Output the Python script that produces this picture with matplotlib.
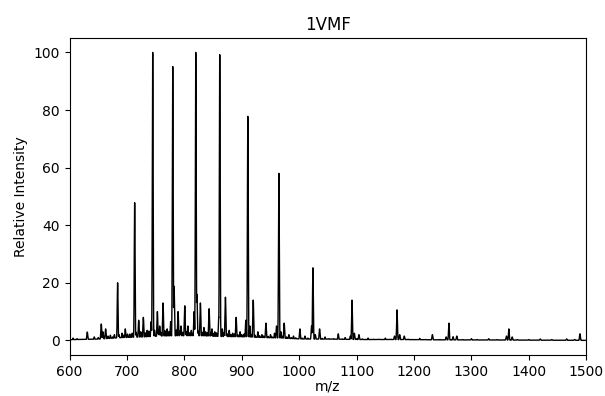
import numpy as np
import matplotlib
matplotlib.use("Agg")
import matplotlib.pyplot as plt

# Major charge-state peaks (m/z, relative intensity)
major_mz = [683.7, 713.4, 744.8, 779.7, 819.8, 861.6, 910.5, 964.6,
            1023.9, 1092.0, 1170.4, 1260.8, 1365.2, 1489.0]
major_int = [20, 47.8, 100, 95.1, 100, 99.2, 77.8, 58,
             25.2, 14, 10.6, 6, 4, 2.3]

# Minor peaks (m/z, relative intensity)
minor_mz = [606, 613, 630.8, 643, 655.2, 658, 662.8, 671, 678, 691.3, 697, 705,
            720.4, 728.5, 735, 742, 752.9, 757, 762.8, 770, 776, 782, 789, 794,
            800.6, 806, 812, 816.9, 821.8, 827.9, 834, 843, 848, 852.9, 859.9,
            866, 871.5, 878, 884, 890.1, 897, 907, 914, 919.9, 928, 935, 942,
            950, 957, 960.5, 968, 973.8, 982, 990, 1001.2, 1010, 1021.5,
            1028, 1035.5, 1045, 1068, 1080, 1089, 1096, 1104, 1120, 1150,
            1166, 1175, 1183, 1210, 1232, 1256, 1268, 1274.5, 1300, 1330,
            1361, 1371, 1420, 1466]
minor_int = [0.8, 0.6, 2.9, 1.2, 5.7, 3.0, 4.0, 1.8, 2.0, 2.5, 4.0, 2.2,
             7.0, 8.0, 3.5, 6.5, 10.0, 5.0, 13.0, 4.0, 6.5, 18.8, 10.0, 5.0,
             12.0, 5.0, 3.5, 10.0, 16.0, 13.0, 4.5, 11.0, 4.0, 3.0, 8.0,
             4.0, 15.0, 3.5, 2.5, 8.0, 3.0, 7.0, 5.0, 14.0, 3.0, 2.0, 6.0,
             2.0, 2.5, 5.0, 3.0, 6.0, 2.0, 1.5, 4.0, 1.5, 5.0,
             2.0, 4.0, 1.2, 2.3, 1.0, 1.5, 2.5, 2.0, 0.8, 0.8,
             1.5, 2.0, 1.5, 0.7, 2.0, 1.2, 1.3, 1.5, 0.6, 0.6,
             1.5, 1.2, 0.5, 0.5]

# Fine baseline spikes (m/z, relative intensity)
fine_mz = [650, 667, 675, 686, 694, 701, 709, 716, 724, 732, 738, 748, 755,
           759, 766, 773, 786, 792, 797, 803, 809, 814, 824, 831, 837, 840,
           846, 851, 856, 869, 874, 881, 887, 893, 900, 904, 917, 923, 931,
           938, 946, 953, 971, 978, 986, 994, 1005, 1015, 1040, 1052, 1060,
           1075, 1100, 1110, 1130, 1140, 1160, 1190, 1200, 1220, 1245, 1285,
           1310, 1345, 1380, 1400, 1440, 1480]
fine_int = [1.0, 1.5, 1.2, 2.0, 1.8, 2.2, 2.5, 2.8, 3.0, 2.6, 3.2, 3.5, 3.0,
            2.8, 3.4, 3.0, 3.6, 3.2, 2.8, 3.0, 2.6, 2.4, 3.2, 2.8, 3.0, 2.6,
            2.8, 2.4, 2.6, 2.6, 2.4, 2.0, 2.2, 2.0, 2.0, 2.2, 2.0, 1.8, 1.6,
            1.5, 1.4, 1.2, 1.4, 1.2, 1.0, 0.9, 0.8, 0.8, 0.7, 0.6, 0.6,
            0.5, 0.6, 0.5, 0.4, 0.4, 0.4, 0.4, 0.3, 0.3, 0.3, 0.3,
            0.3, 0.3, 0.3, 0.3, 0.3, 0.3]

# Broad baseline components (center m/z, height, width)
base_mz = [620, 690, 760, 830, 900, 960, 1040, 1150, 1300]
base_int = [0.3, 0.8, 1.3, 1.4, 1.0, 0.7, 0.4, 0.25, 0.15]
base_wid = [25, 30, 35, 35, 30, 30, 40, 60, 100]

mz = np.arange(590, 1510, 0.1)
baseline = np.zeros_like(mz)
for c, h, w in zip(base_mz, base_int, base_wid):
    baseline += h * np.exp(-0.5 * ((mz - c) / w) ** 2)

spec = baseline.copy()
for c, h in zip(major_mz, major_int):
    spec = np.maximum(spec, h * np.exp(-0.5 * ((mz - c) / 0.7) ** 2))
for c, h in zip(minor_mz, minor_int):
    spec = np.maximum(spec, h * np.exp(-0.5 * ((mz - c) / 0.8) ** 2))
for c, h in zip(fine_mz, fine_int):
    spec = np.maximum(spec, h * np.exp(-0.5 * ((mz - c) / 0.9) ** 2))

fig = plt.figure(figsize=(6.05, 3.96), dpi=100)
ax = fig.add_axes([0.115, 0.104, 0.854, 0.800])
ax.plot(mz, spec, color="black", linewidth=1.0)
ax.set_xlim(600, 1500)
ax.set_ylim(-5, 105)
ax.set_xticks(np.arange(600, 1501, 100))
ax.set_yticks(np.arange(0, 101, 20))
ax.set_xlabel("m/z", labelpad=1)
ax.set_ylabel("Relative Intensity")
ax.set_title("1VMF")
fig.savefig("out.png", dpi=100)
